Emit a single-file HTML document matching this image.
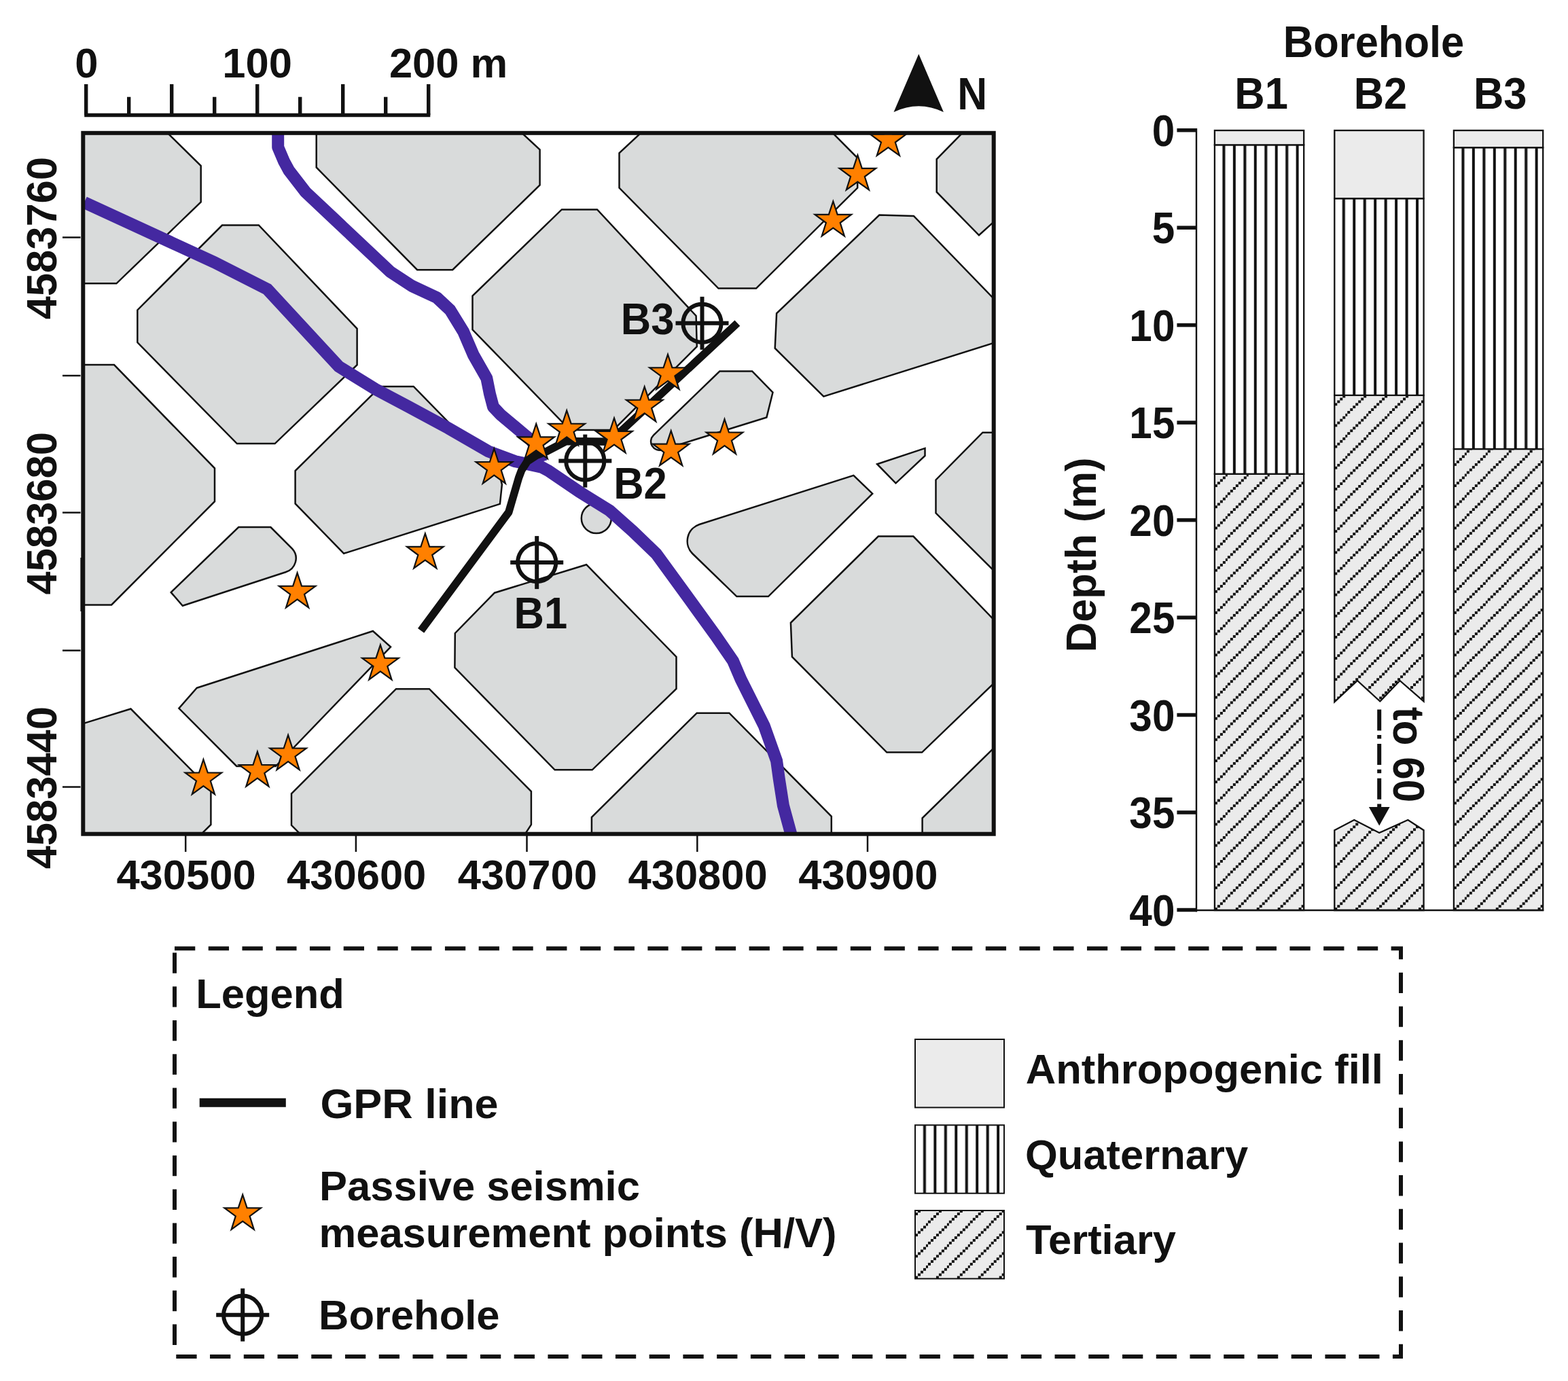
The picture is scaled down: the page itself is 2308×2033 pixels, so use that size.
<!DOCTYPE html>
<html lang="en"><head><meta charset="utf-8"><title>Site map, boreholes and legend</title>
<style>html,body{margin:0;padding:0;background:#fff}svg{display:block}text{font-family:"Liberation Sans",Arial,Helvetica,sans-serif;font-weight:bold}</style>
</head><body>
<svg xmlns="http://www.w3.org/2000/svg" width="2308" height="2033" viewBox="0 0 2308 2033">
<rect width="2308" height="2033" fill="#fff"/>
<defs>
<clipPath id="mapclip"><rect x="122.3" y="195.8" width="1340.4" height="1031.9"/></clipPath>
<pattern id="tert" patternUnits="userSpaceOnUse" x="0" y="0" width="30.930" height="31.150"><rect width="30.930" height="31.150" fill="#ebebeb"/><g fill="#111111" shape-rendering="crispEdges"><rect x="0.000" y="27.256" width="3.866" height="3.894"/><rect x="3.866" y="23.362" width="3.866" height="3.894"/><rect x="7.732" y="19.469" width="3.866" height="3.894"/><rect x="11.599" y="15.575" width="3.866" height="3.894"/><rect x="15.465" y="11.681" width="3.866" height="3.894"/><rect x="19.331" y="7.788" width="3.866" height="3.894"/><rect x="23.197" y="3.894" width="3.866" height="3.894"/><rect x="27.064" y="0.000" width="3.866" height="3.894"/></g></pattern>
<pattern id="quat" patternUnits="userSpaceOnUse" x="0" y="0" width="30.930" height="31.150"><rect width="30.930" height="31.150" fill="#fff"/><rect x="11.499" y="0" width="4.050" height="31.150" fill="#111111"/><rect x="26.964" y="0" width="4.050" height="31.150" fill="#111111"/></pattern>
<pattern id="quat_0" href="#quat" x="1787.90" y="0.00"/>
<pattern id="quat_1" href="#quat" x="1964.30" y="0.00"/>
<pattern id="quat_2" href="#quat" x="2139.90" y="0.00"/>
<pattern id="tert_3" href="#tert" x="1787.90" y="1340.00"/>
<pattern id="tert_4" href="#tert" x="1964.30" y="1033.30"/>
<pattern id="tert_5" href="#tert" x="1964.30" y="1340.00"/>
<pattern id="tert_6" href="#tert" x="2139.90" y="1340.00"/>
<pattern id="tert_7" href="#tert" x="1347.00" y="1882.40"/>
<pattern id="quat_8" href="#quat" x="1347.40" y="0.00"/>
</defs>
<g clip-path="url(#mapclip)">
<g fill="#d9dbdb" stroke="#111111" stroke-width="2.5" stroke-linejoin="miter">
<polygon points="105.0,182.0 232.6,182.0 295.7,244.1 295.7,297.4 171.4,417.3 105.0,417.3" />
<polygon points="327.0,331.5 380.8,331.5 525.6,483.8 525.6,537.1 404.6,653.1 348.8,653.1 202.3,504.1 202.3,456.4" />
<polygon points="465.7,182.0 753.4,182.0 794.6,220.4 794.6,272.5 666.2,397.2 614.1,397.2 465.7,246.5" />
<polygon points="105.0,537.1 168.0,537.1 316.0,689.3 316.0,738.2 164.1,890.4 105.0,890.4" />
<polygon points="560.0,569.0 608.7,569.0 663.0,624.5 715.0,660.0 736.0,702.0 738.9,713.1 735.9,741.9 506.1,814.8 434.6,741.4 434.6,693.0" />
<polygon points="826.9,308.4 879.0,308.4 1024.6,465.0 1025.8,510.2 903.0,633.0 839.0,633.0 695.5,485.3 695.5,435.6" />
<polygon points="958.0,182.0 1212.0,182.0 1262.2,232.6 1262.2,276.6 1113.0,424.6 1057.5,424.6 911.5,276.6 911.5,225.3" />
<polygon points="1430.0,182.0 1378.7,234.3 1378.7,282.7 1441.0,346.3 1490.0,302.0 1490.0,182.0" />
<polygon points="1294.3,316.6 1344.9,317.9 1490.0,468.0 1490.0,496.3 1212.3,583.6 1140.7,512.7 1143.1,461.3" />
<polygon points="289.6,1012.8 548.9,929.0 575.0,952.3 405.8,1128.0 348.3,1128.0 263.4,1042.8" />
<polygon points="863.1,831.2 995.5,966.9 995.5,1014.0 871.7,1133.3 816.6,1133.3 669.4,982.8 669.8,932.2 728.0,872.7" />
<polygon points="1291.1,683.2 1361.5,659.9 1361.5,670.9 1318.5,711.3" />
<polygon points="1490.0,636.7 1446.4,636.7 1377.5,706.4 1377.5,755.3 1490.0,867.2" />
<polygon points="1292.8,789.6 1344.4,789.6 1490.0,940.5 1490.0,979.7 1357.1,1107.6 1305.3,1107.6 1165.9,966.9 1163.9,916.8" />
<polygon points="105.0,1070.5 125.7,1064.1 192.5,1043.5 310.4,1162.7 310.4,1214.0 284.0,1240.0 105.0,1240.0" />
<polygon points="429.0,1168.3 583.0,1014.2 631.9,1014.2 781.9,1165.1 781.9,1214.0 765.0,1240.0 454.0,1240.0 429.0,1214.8" />
<polygon points="870.9,1240.0 870.9,1203.0 1025.7,1049.7 1073.4,1049.7 1223.8,1201.8 1223.8,1240.0" />
<polygon points="1357.6,1240.0 1357.6,1204.3 1490.0,1074.5 1490.0,1240.0" />
<path d="M1059.3,546.5 L1107.1,546.4 L1137.5,577.7 L1128.4,614.4 L974.8,662.2 A12.9,12.9 0 0 1 962,640.6 Z"/>
<path d="M351.2,776.1 L398.4,776.1 L430.2,807.9 A21,21 0 0 1 420.4,842.2 L268.8,891.8 L251.7,872 Z"/>
<path d="M1256.4,699.8 L1284.2,726.7 L1130.9,878.1 L1084.4,878.1 L1019.3,815 A26,26 0 0 1 1029.5,772 Z"/>
<circle cx="877.8" cy="763" r="22"/>
</g>
<polyline points="409.2,185.0 409.2,216.7 418.0,237.5 425.3,251.0 449.8,282.7 491.4,321.9 574.6,400.2 606.3,421.0 643.0,438.1 662.5,456.4 682.1,488.2 696.8,522.5 716.3,556.7 721.0,580.0 726.0,599.0 737.0,610.6 771.3,639.3 782.3,648.5 792.0,664.0 797.0,680.0" fill="none" stroke="#4428a0" stroke-width="18" stroke-linejoin="round"/>
<polyline points="124.0,298.0 315.3,386.0 393.5,425.8 498.7,539.6 552.7,573.0 600.0,598.0 660.0,630.4 718.7,664.4 757.8,679.0 797.0,687.6 807.4,693.1 853.2,724.3 897.4,751.7 931.6,782.2 965.9,815.3 1015.8,883.8 1053.0,935.1 1079.0,973.0 1090.5,1000.0 1124.8,1068.5 1143.1,1119.9 1146.8,1146.8 1152.9,1185.9 1163.4,1224.3 1168.0,1241.0" fill="none" stroke="#4428a0" stroke-width="18" stroke-linejoin="miter"/>
<polyline points="619.6,928.3 748.8,754.0 763.5,703.5 767.6,692.5 776.2,679.1 789.6,670.5 804.9,664.4 833.7,649.4 897.5,650.2 1085.4,475.6" fill="none" stroke="#111111" stroke-width="11.5" stroke-linejoin="round"/>
<polygon points="1307.4,177.9 1313.8,197.3 1334.2,197.4 1317.8,209.5 1324.0,228.9 1307.4,217.0 1290.8,228.9 1297.0,209.5 1280.6,197.4 1301.0,197.3" fill="#ff8000" stroke="#111111" stroke-width="2.2" stroke-linejoin="miter" stroke-miterlimit="10"/>
<polygon points="1262.4,228.4 1268.8,247.8 1289.2,247.9 1272.8,260.0 1279.0,279.4 1262.4,267.5 1245.8,279.4 1252.0,260.0 1235.6,247.9 1256.0,247.8" fill="#ff8000" stroke="#111111" stroke-width="2.2" stroke-linejoin="miter" stroke-miterlimit="10"/>
<polygon points="1226.3,296.4 1232.7,315.8 1253.1,315.9 1236.7,328.0 1242.9,347.4 1226.3,335.5 1209.7,347.4 1215.9,328.0 1199.5,315.9 1219.9,315.8" fill="#ff8000" stroke="#111111" stroke-width="2.2" stroke-linejoin="miter" stroke-miterlimit="10"/>
<polygon points="983.0,521.8 989.4,541.2 1009.8,541.3 993.4,553.4 999.6,572.8 983.0,560.9 966.4,572.8 972.6,553.4 956.2,541.3 976.6,541.2" fill="#ff8000" stroke="#111111" stroke-width="2.2" stroke-linejoin="miter" stroke-miterlimit="10"/>
<polygon points="948.7,569.3 955.1,588.7 975.5,588.8 959.1,600.9 965.3,620.3 948.7,608.4 932.1,620.3 938.3,600.9 921.9,588.8 942.3,588.7" fill="#ff8000" stroke="#111111" stroke-width="2.2" stroke-linejoin="miter" stroke-miterlimit="10"/>
<polygon points="904.0,615.4 910.4,634.8 930.8,634.9 914.4,647.0 920.6,666.4 904.0,654.5 887.4,666.4 893.6,647.0 877.2,634.9 897.6,634.8" fill="#ff8000" stroke="#111111" stroke-width="2.2" stroke-linejoin="miter" stroke-miterlimit="10"/>
<polygon points="834.2,604.3 840.6,623.7 861.0,623.8 844.6,635.9 850.8,655.3 834.2,643.4 817.6,655.3 823.8,635.9 807.4,623.8 827.8,623.7" fill="#ff8000" stroke="#111111" stroke-width="2.2" stroke-linejoin="miter" stroke-miterlimit="10"/>
<polygon points="789.2,623.9 795.6,643.3 816.0,643.4 799.6,655.5 805.8,674.9 789.2,663.0 772.6,674.9 778.8,655.5 762.4,643.4 782.8,643.3" fill="#ff8000" stroke="#111111" stroke-width="2.2" stroke-linejoin="miter" stroke-miterlimit="10"/>
<polygon points="727.3,660.6 733.7,680.0 754.1,680.1 737.7,692.2 743.9,711.6 727.3,699.7 710.7,711.6 716.9,692.2 700.5,680.1 720.9,680.0" fill="#ff8000" stroke="#111111" stroke-width="2.2" stroke-linejoin="miter" stroke-miterlimit="10"/>
<polygon points="987.7,634.2 994.1,653.6 1014.5,653.7 998.1,665.8 1004.3,685.2 987.7,673.3 971.1,685.2 977.3,665.8 960.9,653.7 981.3,653.6" fill="#ff8000" stroke="#111111" stroke-width="2.2" stroke-linejoin="miter" stroke-miterlimit="10"/>
<polygon points="1066.5,617.1 1072.9,636.5 1093.3,636.6 1076.9,648.7 1083.1,668.1 1066.5,656.2 1049.9,668.1 1056.1,648.7 1039.7,636.6 1060.1,636.5" fill="#ff8000" stroke="#111111" stroke-width="2.2" stroke-linejoin="miter" stroke-miterlimit="10"/>
<polygon points="625.8,785.4 632.2,804.8 652.6,804.9 636.2,817.0 642.4,836.4 625.8,824.5 609.2,836.4 615.4,817.0 599.0,804.9 619.4,804.8" fill="#ff8000" stroke="#111111" stroke-width="2.2" stroke-linejoin="miter" stroke-miterlimit="10"/>
<polygon points="437.6,843.3 444.0,862.7 464.4,862.8 448.0,874.9 454.2,894.3 437.6,882.4 421.0,894.3 427.2,874.9 410.8,862.8 431.2,862.7" fill="#ff8000" stroke="#111111" stroke-width="2.2" stroke-linejoin="miter" stroke-miterlimit="10"/>
<polygon points="559.9,949.3 566.3,968.7 586.7,968.8 570.3,980.9 576.5,1000.3 559.9,988.4 543.3,1000.3 549.5,980.9 533.1,968.8 553.5,968.7" fill="#ff8000" stroke="#111111" stroke-width="2.2" stroke-linejoin="miter" stroke-miterlimit="10"/>
<polygon points="424.1,1082.1 430.5,1101.5 450.9,1101.6 434.5,1113.7 440.7,1133.1 424.1,1121.2 407.5,1133.1 413.7,1113.7 397.3,1101.6 417.7,1101.5" fill="#ff8000" stroke="#111111" stroke-width="2.2" stroke-linejoin="miter" stroke-miterlimit="10"/>
<polygon points="378.9,1106.6 385.3,1126.0 405.7,1126.1 389.3,1138.2 395.5,1157.6 378.9,1145.7 362.3,1157.6 368.5,1138.2 352.1,1126.1 372.5,1126.0" fill="#ff8000" stroke="#111111" stroke-width="2.2" stroke-linejoin="miter" stroke-miterlimit="10"/>
<polygon points="299.4,1118.1 305.8,1137.5 326.2,1137.6 309.8,1149.7 316.0,1169.1 299.4,1157.2 282.8,1169.1 289.0,1149.7 272.6,1137.6 293.0,1137.5" fill="#ff8000" stroke="#111111" stroke-width="2.2" stroke-linejoin="miter" stroke-miterlimit="10"/>
</g>
<g stroke="#111111" stroke-width="6.0" fill="none"><circle cx="790.2" cy="828.1" r="28.1"/><line x1="751.2" y1="828.1" x2="829.2" y2="828.1"/><line x1="790.2" y1="789.1" x2="790.2" y2="867.1"/></g>
<g stroke="#111111" stroke-width="6.0" fill="none"><circle cx="861.3" cy="678.6" r="28.1"/><line x1="822.3" y1="678.6" x2="900.3" y2="678.6"/><line x1="861.3" y1="639.6" x2="861.3" y2="717.6"/></g>
<g stroke="#111111" stroke-width="6.0" fill="none"><circle cx="1033.5" cy="475.8" r="28.1"/><line x1="994.5" y1="475.8" x2="1072.5" y2="475.8"/><line x1="1033.5" y1="436.8" x2="1033.5" y2="514.8"/></g>
<text transform="translate(756.6,924.8) scale(0.936,1)" font-size="65.7px" text-anchor="start" fill="#111111">B1</text>
<text transform="translate(903.2,734.4) scale(0.936,1)" font-size="65.7px" text-anchor="start" fill="#111111">B2</text>
<text transform="translate(913.8,491.6) scale(0.936,1)" font-size="65.7px" text-anchor="start" fill="#111111">B3</text>
<rect x="122.3" y="195.8" width="1340.4" height="1031.9" fill="none" stroke="#111111" stroke-width="6.0"/>
<line x1="119.6" y1="821" x2="119.6" y2="900" stroke="#111111" stroke-width="2.5"/>
<line x1="273.2" y1="1229" x2="273.2" y2="1254" stroke="#111111" stroke-width="2.5"/>
<text x="274.0" y="1309.4" font-size="61.5px" text-anchor="middle" fill="#111111" >430500</text>
<line x1="523.9" y1="1229" x2="523.9" y2="1254" stroke="#111111" stroke-width="2.5"/>
<text x="524.7" y="1309.4" font-size="61.5px" text-anchor="middle" fill="#111111" >430600</text>
<line x1="775.5" y1="1229" x2="775.5" y2="1254" stroke="#111111" stroke-width="2.5"/>
<text x="776.3" y="1309.4" font-size="61.5px" text-anchor="middle" fill="#111111" >430700</text>
<line x1="1026.3" y1="1229" x2="1026.3" y2="1254" stroke="#111111" stroke-width="2.5"/>
<text x="1027.1" y="1309.4" font-size="61.5px" text-anchor="middle" fill="#111111" >430800</text>
<line x1="1277.0" y1="1229" x2="1277.0" y2="1254" stroke="#111111" stroke-width="2.5"/>
<text x="1277.8" y="1309.4" font-size="61.5px" text-anchor="middle" fill="#111111" >430900</text>
<line x1="92" y1="349.5" x2="118.5" y2="349.5" stroke="#111111" stroke-width="2.5"/>
<text transform="translate(82.8,350.7) rotate(-90) scale(0.976,1)" font-size="63px" text-anchor="middle" fill="#111111">4583760</text>
<line x1="92" y1="553.0" x2="118.5" y2="553.0" stroke="#111111" stroke-width="2.5"/>
<line x1="92" y1="754.6" x2="118.5" y2="754.6" stroke="#111111" stroke-width="2.5"/>
<text transform="translate(82.8,755.8) rotate(-90) scale(0.976,1)" font-size="63px" text-anchor="middle" fill="#111111">4583680</text>
<line x1="92" y1="957.6" x2="118.5" y2="957.6" stroke="#111111" stroke-width="2.5"/>
<line x1="92" y1="1158.5" x2="118.5" y2="1158.5" stroke="#111111" stroke-width="2.5"/>
<text transform="translate(82.8,1159.7) rotate(-90) scale(0.976,1)" font-size="63px" text-anchor="middle" fill="#111111">4583440</text>
<g stroke="#111111" stroke-width="5.4" fill="none">
<line x1="124.2" y1="169.5" x2="633.3" y2="169.5"/>
<line x1="126.7" y1="123.9" x2="126.7" y2="169.5"/>
<line x1="189.7" y1="142.7" x2="189.7" y2="169.5"/>
<line x1="252.7" y1="123.9" x2="252.7" y2="169.5"/>
<line x1="315.7" y1="142.7" x2="315.7" y2="169.5"/>
<line x1="378.7" y1="123.9" x2="378.7" y2="169.5"/>
<line x1="441.7" y1="142.7" x2="441.7" y2="169.5"/>
<line x1="504.7" y1="123.9" x2="504.7" y2="169.5"/>
<line x1="567.7" y1="142.7" x2="567.7" y2="169.5"/>
<line x1="630.7" y1="123.9" x2="630.7" y2="169.5"/>
</g>
<text x="127.4" y="113.6" font-size="61.5px" text-anchor="middle" fill="#111111" >0</text>
<text x="378.6" y="113.6" font-size="61.5px" text-anchor="middle" fill="#111111" >100</text>
<text x="572.9" y="113.6" font-size="61.5px" text-anchor="start" fill="#111111" >200 m</text>
<path d="M1352.3,79.4 L1388.9,165 Q1352.3,147.6 1315.5,165 Z" fill="#111111"/>
<text transform="translate(1409.3,161) scale(0.92,1)" font-size="66px" fill="#111111">N</text>
<text transform="translate(2022.0,83.6) scale(0.955,1)" font-size="64.4px" text-anchor="middle" fill="#111111">Borehole</text>
<text transform="translate(1856.6,160.0) scale(0.956,1)" font-size="64.3px" text-anchor="middle" fill="#111111">B1</text>
<rect x="1787.9" y="697.7" width="131.3" height="642.3" fill="url(#tert_3)" stroke="#111111" stroke-width="2.3"/>
<rect x="1787.9" y="213.3" width="131.3" height="484.4" fill="url(#quat_0)" stroke="#111111" stroke-width="2.3"/>
<rect x="1787.9" y="192.0" width="131.3" height="21.3" fill="#ebebeb" stroke="#111111" stroke-width="2.3"/>
<text transform="translate(2032.0,160.0) scale(0.956,1)" font-size="64.3px" text-anchor="middle" fill="#111111">B2</text>
<path d="M1964.3,581.9 L2095.6,581.9 L2095.6,1032.5 L2060.5,1002 L2031.3,1032.5 L1998,1002 L1964.3,1033.3 Z" fill="url(#tert_4)" stroke="#111111" stroke-width="2.3"/>
<path d="M1964.3,1222.2 L1993.3,1207 L2030.2,1226 L2072.4,1207 L2095.6,1222.2 L2095.6,1340.0 L1964.3,1340.0 Z" fill="url(#tert_5)" stroke="#111111" stroke-width="2.3"/>
<rect x="1964.3" y="292.2" width="131.3" height="289.7" fill="url(#quat_1)" stroke="#111111" stroke-width="2.3"/>
<rect x="1964.3" y="192.0" width="131.3" height="100.2" fill="#ebebeb" stroke="#111111" stroke-width="2.3"/>
<text transform="translate(2208.2,160.0) scale(0.956,1)" font-size="64.3px" text-anchor="middle" fill="#111111">B3</text>
<rect x="2139.9" y="661.0" width="131.3" height="679.0" fill="url(#tert_6)" stroke="#111111" stroke-width="2.3"/>
<rect x="2139.9" y="217.2" width="131.3" height="443.8" fill="url(#quat_2)" stroke="#111111" stroke-width="2.3"/>
<rect x="2139.9" y="192.0" width="131.3" height="25.2" fill="#ebebeb" stroke="#111111" stroke-width="2.3"/>
<line x1="1761" y1="1340.0" x2="2272.2" y2="1340.0" stroke="#111111" stroke-width="2.3"/>
<line x1="2030.2" y1="1044.4" x2="2030.2" y2="1190" stroke="#111111" stroke-width="6" stroke-dasharray="31 6.6 5.5 7.6"/>
<polygon points="2014.9,1188 2045.6,1188 2030.2,1215.6" fill="#111111"/>
<text transform="translate(2050.5,1111) rotate(90) scale(0.925,1)" font-size="65px" text-anchor="middle" fill="#111111">to 60</text>
<line x1="1761" y1="189.0" x2="1761" y2="1342.2" stroke="#111111" stroke-width="2.4"/>
<line x1="1732.4" y1="191.7" x2="1762" y2="191.7" stroke="#111111" stroke-width="5.5"/>
<text transform="translate(1729.4,214.9) scale(0.923,1)" font-size="65.3px" text-anchor="end" fill="#111111">0</text>
<line x1="1732.4" y1="335.2" x2="1762" y2="335.2" stroke="#111111" stroke-width="5.5"/>
<text transform="translate(1729.4,358.4) scale(0.923,1)" font-size="65.3px" text-anchor="end" fill="#111111">5</text>
<line x1="1732.4" y1="478.6" x2="1762" y2="478.6" stroke="#111111" stroke-width="5.5"/>
<text transform="translate(1729.4,501.8) scale(0.923,1)" font-size="65.3px" text-anchor="end" fill="#111111">10</text>
<line x1="1732.4" y1="622.1" x2="1762" y2="622.1" stroke="#111111" stroke-width="5.5"/>
<text transform="translate(1729.4,645.3) scale(0.923,1)" font-size="65.3px" text-anchor="end" fill="#111111">15</text>
<line x1="1732.4" y1="765.6" x2="1762" y2="765.6" stroke="#111111" stroke-width="5.5"/>
<text transform="translate(1729.4,788.8) scale(0.923,1)" font-size="65.3px" text-anchor="end" fill="#111111">20</text>
<line x1="1732.4" y1="909.1" x2="1762" y2="909.1" stroke="#111111" stroke-width="5.5"/>
<text transform="translate(1729.4,932.3) scale(0.923,1)" font-size="65.3px" text-anchor="end" fill="#111111">25</text>
<line x1="1732.4" y1="1052.5" x2="1762" y2="1052.5" stroke="#111111" stroke-width="5.5"/>
<text transform="translate(1729.4,1075.8) scale(0.923,1)" font-size="65.3px" text-anchor="end" fill="#111111">30</text>
<line x1="1732.4" y1="1196.0" x2="1762" y2="1196.0" stroke="#111111" stroke-width="5.5"/>
<text transform="translate(1729.4,1219.2) scale(0.923,1)" font-size="65.3px" text-anchor="end" fill="#111111">35</text>
<line x1="1732.4" y1="1339.5" x2="1762" y2="1339.5" stroke="#111111" stroke-width="5.5"/>
<text transform="translate(1729.4,1362.7) scale(0.923,1)" font-size="65.3px" text-anchor="end" fill="#111111">40</text>
<text transform="translate(1613,816.8) rotate(-90) scale(0.968,1)" font-size="63.5px" text-anchor="middle" fill="#111111">Depth (m)</text>
<rect x="257" y="1396.3" width="1805" height="600.75" fill="none" stroke="#111111" stroke-width="6" stroke-dasharray="30.3 19.44"/>
<text x="288.2" y="1483.6" font-size="61.5px" text-anchor="start" fill="#111111" >Legend</text>
<line x1="293.7" y1="1623.2" x2="420.8" y2="1623.2" stroke="#111111" stroke-width="13"/>
<text transform="translate(471.4,1646) scale(1.023,1)" font-size="61.5px" fill="#111111">GPR line</text>
<polygon points="357.2,1758.8 363.6,1778.2 384.0,1778.3 367.6,1790.4 373.8,1809.8 357.2,1797.9 340.6,1809.8 346.8,1790.4 330.4,1778.3 350.8,1778.2" fill="#ff8000" stroke="#111111" stroke-width="2.2" stroke-linejoin="miter" stroke-miterlimit="10"/>
<text x="470.0" y="1767.2" font-size="61.5px" text-anchor="start" fill="#111111" >Passive seismic</text>
<text x="469.5" y="1835.6" font-size="61.5px" text-anchor="start" fill="#111111" >measurement points (H/V)</text>
<g stroke="#111111" stroke-width="6.0" fill="none"><circle cx="357.2" cy="1935.7" r="28.1"/><line x1="318.2" y1="1935.7" x2="396.2" y2="1935.7"/><line x1="357.2" y1="1896.7" x2="357.2" y2="1974.7"/></g>
<text x="469.0" y="1957.2" font-size="61.5px" text-anchor="start" fill="#111111" >Borehole</text>
<rect x="1347" y="1530" width="131" height="100.4" fill="#ebebeb" stroke="#111111" stroke-width="2"/>
<rect x="1347" y="1656.3" width="131" height="100.4" fill="url(#quat_8)" stroke="#111111" stroke-width="2"/>
<rect x="1347" y="1782" width="131" height="100.4" fill="url(#tert_7)" stroke="#111111" stroke-width="2"/>
<text x="1509.8" y="1594.6" font-size="61.5px" text-anchor="start" fill="#111111" >Anthropogenic fill</text>
<text x="1509.0" y="1721.0" font-size="61.5px" text-anchor="start" fill="#111111" >Quaternary</text>
<text x="1510.0" y="1845.7" font-size="61.5px" text-anchor="start" fill="#111111" >Tertiary</text>
</svg>
</body></html>
